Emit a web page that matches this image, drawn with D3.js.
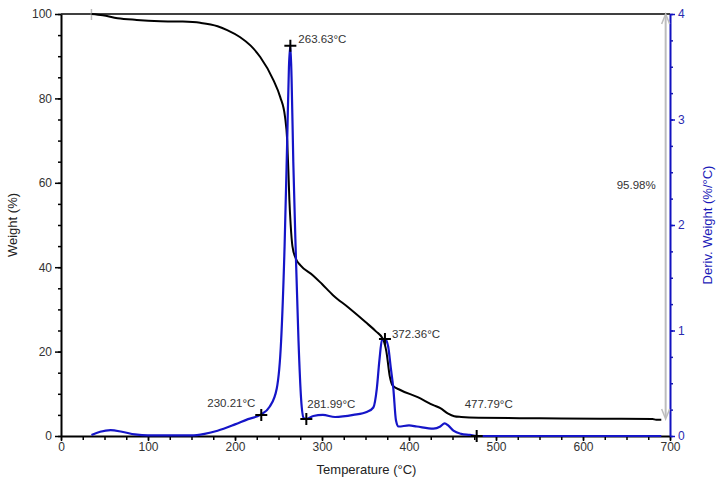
<!DOCTYPE html>
<html><head>
<meta charset="utf-8">
<title>TGA</title>
<script src="https://d3js.org/d3.v7.min.js"></script>
<style>
  body { margin: 0; background: #fff; }
  text { font-family: "Liberation Sans", Arial, sans-serif; }
</style>
</head>
<body>
<div id="chart"></div>
<script>

// weight curve (temperature °C, weight %)
var weightT = [35, 48, 65, 87, 114, 140, 160, 180, 191, 206, 218, 229, 244, 252, 257.5, 260, 261.5, 262.5, 264, 266, 270, 275, 290, 300, 313, 330, 350, 362, 370, 374, 378, 381, 390, 410, 428, 436, 445, 452, 460, 480, 550, 620, 680, 684, 690];
var weightW = [100, 99.7, 99.0, 98.6, 98.3, 98.2, 97.9, 97.1, 96.2, 94.5, 92.5, 89.8, 84.4, 80.3, 75.6, 70, 62, 56, 50, 45, 42, 40.5, 38, 36, 33.3, 30.5, 27, 24.8, 23, 20, 14, 12, 10.9, 9.2, 7.3, 6.6, 5.3, 4.7, 4.5, 4.3, 4.2, 4.1, 4.05, 3.85, 3.85];

// derivative curve (temperature °C, %/°C)
var derivT = [35, 45, 57, 70, 85, 100, 150, 165, 180, 200, 215, 229, 240, 248, 253, 257, 260, 262, 263.6, 265, 267, 270, 273, 276, 279, 282, 290, 301, 315, 336, 352, 359, 363, 366, 369, 372.4, 376, 379, 382, 385, 388, 400, 409, 428, 436, 441, 445, 451, 460, 470, 478, 690];
var derivD = [0.01, 0.04, 0.055, 0.04, 0.015, 0.005, 0.005, 0.02, 0.05, 0.11, 0.16, 0.2, 0.28, 0.45, 0.9, 1.8, 2.8, 3.5, 3.7, 3.4, 2.6, 1.7, 0.9, 0.35, 0.17, 0.16, 0.19, 0.2, 0.18, 0.2, 0.23, 0.27, 0.45, 0.72, 0.91, 0.92, 0.85, 0.65, 0.45, 0.15, 0.09, 0.1, 0.09, 0.07, 0.09, 0.12, 0.1, 0.05, 0.02, 0.01, 0, 0];

// marked points on the derivative curve
var markT = [230.21, 263.63, 281.99, 372.36, 477.79];
var markD = [0.2, 3.7, 0.16, 0.92, 0];
var markLabels = ["230.21°C", "263.63°C", "281.99°C", "372.36°C", "477.79°C"];

// weight loss step
var lossT = 695;
var lossFrom = 100;
var lossTo = 4.02;
var lossLabel = "95.98%";

var xTicks = [0, 100, 200, 300, 400, 500, 600, 700];
var yTicks = [0, 20, 40, 60, 80, 100];
var y2Ticks = [0, 1, 2, 3, 4];

var W = 720, H = 483;
var margin = {top: 14, right: 50, bottom: 47, left: 61};
var width = W - margin.left - margin.right;
var height = H - margin.top - margin.bottom;

var svg = d3.select("#chart").append("svg")
    .attr("width", W)
    .attr("height", H);

var g = svg.append("g")
    .attr("transform", "translate(" + margin.left + "," + margin.top + ")");

var x = d3.scaleLinear().domain([0, 700]).range([0, width]);
var y = d3.scaleLinear().domain([0, 100]).range([height, 0]);
var y2 = d3.scaleLinear().domain([0, 4]).range([height, 0]);

// top frame line
g.append("line")
    .attr("x1", 0).attr("x2", width)
    .attr("y1", 0).attr("y2", 0)
    .attr("stroke", "#000").attr("stroke-width", 1.5);

// minor ticks
var minorX = d3.range(0, 701, 25);
g.append("g")
    .attr("transform", "translate(0," + height + ")")
    .call(d3.axisBottom(x).tickValues(minorX).tickSize(4).tickFormat(""))
    .call(function(a) { a.select(".domain").remove(); a.selectAll("line").attr("stroke-width", 1.5); });

g.append("g")
    .call(d3.axisLeft(y).tickValues(d3.range(0, 101, 5)).tickSize(3).tickFormat(""))
    .call(function(a) { a.select(".domain").remove(); a.selectAll("line").attr("stroke-width", 1.5); });

g.append("g")
    .attr("transform", "translate(" + width + ",0)")
    .call(d3.axisRight(y2).tickValues(d3.range(0, 4.01, 0.25)).tickSize(3).tickFormat(""))
    .call(function(a) { a.select(".domain").remove(); a.selectAll("line").attr("stroke", "#1a1aa8").attr("stroke-width", 1.5); });

// main axes
var xAxis = g.append("g")
    .attr("transform", "translate(0," + height + ")")
    .call(d3.axisBottom(x).tickValues(xTicks).tickSize(5).tickSizeOuter(0));
xAxis.select(".domain").attr("stroke-width", 2);
xAxis.selectAll("line").attr("stroke-width", 1.5);
xAxis.selectAll("text").attr("font-size", 12).attr("fill", "#333").attr("dy", "0.55em");

var yAxis = g.append("g")
    .call(d3.axisLeft(y).tickValues(yTicks).tickSize(6).tickSizeOuter(0));
yAxis.select(".domain").attr("stroke-width", 2);
yAxis.selectAll("line").attr("stroke-width", 1.5);
yAxis.selectAll("text").attr("font-size", 12).attr("fill", "#333");

var y2Axis = g.append("g")
    .attr("transform", "translate(" + width + ",0)")
    .call(d3.axisRight(y2).tickValues(y2Ticks).tickSize(5).tickSizeOuter(0).tickFormat(d3.format("d")));
y2Axis.select(".domain").attr("stroke", "#1212c0").attr("stroke-width", 2);
y2Axis.selectAll("line").attr("stroke", "#1212c0").attr("stroke-width", 1.5);
y2Axis.selectAll("text").attr("font-size", 12).attr("fill", "#2a2ab0");

// axis titles
svg.append("text")
    .attr("transform", "translate(17," + (margin.top + height / 2) + ") rotate(-90)")
    .attr("text-anchor", "middle")
    .attr("font-size", 13).attr("fill", "#222")
    .text("Weight (%)");

svg.append("text")
    .attr("x", margin.left + width / 2 + 1)
    .attr("y", 474)
    .attr("text-anchor", "middle")
    .attr("font-size", 13).attr("fill", "#222")
    .text("Temperature (°C)");

svg.append("text")
    .attr("transform", "translate(712," + (margin.top + height / 2) + ") rotate(-90)")
    .attr("text-anchor", "middle")
    .attr("font-size", 13).attr("fill", "#1a1ab8")
    .text("Deriv. Weight (%/°C)");

// weight loss double arrow
var ax = x(lossT);
g.append("line")
    .attr("x1", ax).attr("x2", ax)
    .attr("y1", y(lossFrom) + 2).attr("y2", y(lossTo) - 2)
    .attr("stroke", "#bdbdbd").attr("stroke-width", 2);
g.append("path")
    .attr("d", "M" + (ax - 4) + "," + (y(lossFrom) + 10) + "L" + ax + "," + y(lossFrom) + "L" + (ax + 4) + "," + (y(lossFrom) + 10))
    .attr("fill", "none").attr("stroke", "#bdbdbd").attr("stroke-width", 1.5);
g.append("path")
    .attr("d", "M" + (ax - 4) + "," + (y(lossTo) - 10) + "L" + ax + "," + y(lossTo) + "L" + (ax + 4) + "," + (y(lossTo) - 10))
    .attr("fill", "none").attr("stroke", "#bdbdbd").attr("stroke-width", 1.5);
g.append("text")
    .attr("x", ax - 49).attr("y", y(58.5))
    .attr("font-size", 11.5).attr("fill", "#333")
    .attr("text-anchor", "start")
    .text(lossLabel);

// start marker on weight curve
g.append("line")
    .attr("x1", x(weightT[0])).attr("x2", x(weightT[0]))
    .attr("y1", y(100) - 5).attr("y2", y(100) + 6)
    .attr("stroke", "#bbb").attr("stroke-width", 1.5);

// curves
var weightData = weightT.map(function(t, i) { return [t, weightW[i]]; });
var derivData = derivT.map(function(t, i) { return [t, derivD[i]]; });

g.append("path")
    .datum(weightData)
    .attr("fill", "none")
    .attr("stroke", "#000")
    .attr("stroke-width", 2)
    .attr("d", d3.line()
      .x(function(d) { return x(d[0]); })
      .y(function(d) { return y(d[1]); })
      .curve(d3.curveMonotoneX));

g.append("path")
    .datum(derivData)
    .attr("fill", "none")
    .attr("stroke", "#1515c8")
    .attr("stroke-width", 2.2)
    .attr("d", d3.line()
      .x(function(d) { return x(d[0]); })
      .y(function(d) { return y2(d[1]); })
      .curve(d3.curveMonotoneX));

// markers and labels
var labelPlace = [
  {dx: -54, dy: -8},
  {dx: 8, dy: -3},
  {dx: 1, dy: -11},
  {dx: 7, dy: -1},
  {dx: -12, dy: -28}
];

markT.forEach(function(t, i) {
  var px = x(t), py = y2(markD[i]);
  g.append("path")
      .attr("d", "M" + (px - 6) + "," + py + "H" + (px + 6) + "M" + px + "," + (py - 6) + "V" + (py + 6))
      .attr("stroke", "#000").attr("stroke-width", 2);
  g.append("text")
      .attr("x", px + labelPlace[i].dx)
      .attr("y", py + labelPlace[i].dy)
      .attr("font-size", 11.5).attr("fill", "#333")
      .text(markLabels[i]);
});

</script>
</body></html>
